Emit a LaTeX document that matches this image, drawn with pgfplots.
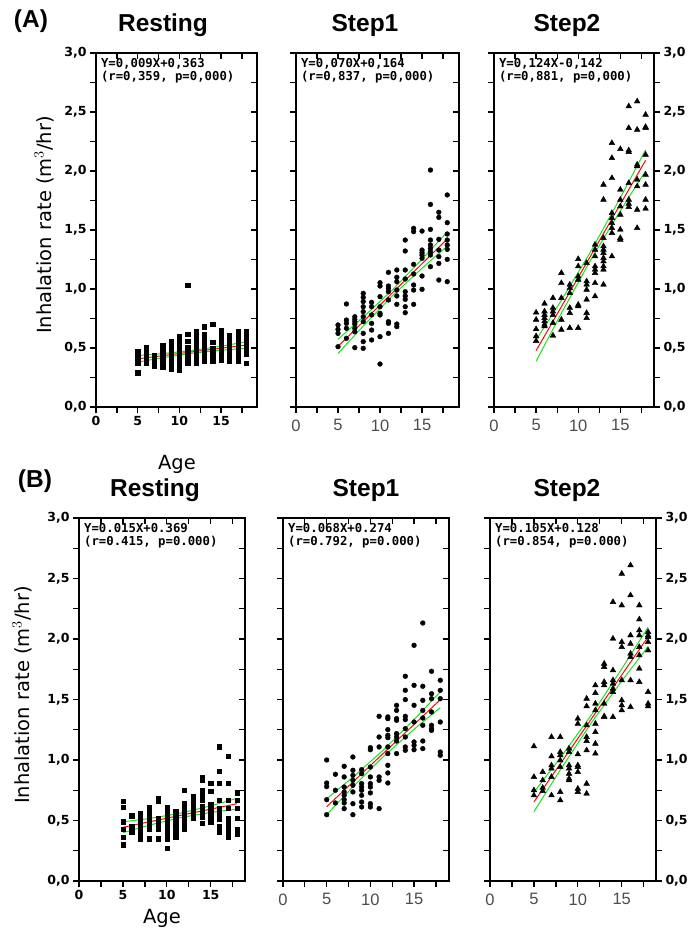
\documentclass[border=0pt]{standalone}
\usepackage{fontspec}
\setmainfont{DejaVu Sans}
\newfontfamily\arialfont{Liberation Sans}
\newfontfamily\monofont{DejaVu Sans Mono}
\usepackage{pgfplots}
\pgfplotsset{compat=1.18}

\definecolor{fitgreen}{RGB}{30,225,30}
\definecolor{fitred}{RGB}{245,10,10}

\tikzset{
  anno/.style={anchor=north west, align=left, inner sep=0pt, font=\monofont\bfseries\fontsize{12.3}{12.8}\selectfont},
  ttl/.style={font=\arialfont\bfseries\fontsize{24.5}{24.5}\selectfont, anchor=base},
}

\pgfplotsset{
  panel/.style={
    scale only axis, xmin=0, ymin=0, ymax=3,
    axis line style={line width=1.8pt},
    tick style={line width=1.3pt, black},
    major tick length=6pt, minor tick length=6pt,
    xtick={0,5,10,15}, minor xtick={2.5,7.5,12.5,17.5},
    ytick={0,0.5,...,3}, minor ytick={0.25,0.75,...,2.75},
    yticklabel style={/pgf/number format/fixed, /pgf/number format/fixed zerofill,
      /pgf/number format/precision=1, /pgf/number format/use comma,
      /pgf/number format/assume math mode=true, font=\bfseries\fontsize{12.5}{12.5}\selectfont},
    clip=false,
  },
  mainax/.style={panel, tick align=outside, xtick pos=left, ytick pos=left},
  boldx/.style={xticklabel style={font=\bfseries\fontsize{12.5}{12.5}\selectfont, /pgf/number format/assume math mode=true}},
  thinx/.style={xticklabel style={font=\arialfont\fontsize{16.5}{16.5}\selectfont, black!70, yshift=-3pt, /pgf/number format/assume math mode=true}},
  noy/.style={yticklabels={}},
  topin/.style={panel, tick align=inside, xtick pos=right, ytick pos=right, xticklabels={}, yticklabels={}},
  topinonly/.style={panel, tick align=inside, xtick pos=right, ytick=\empty, minor ytick=\empty, xticklabels={}},
  rightout/.style={panel, tick align=outside, ytick pos=right, yticklabel pos=right, xtick=\empty, minor xtick=\empty},
  sq/.style={only marks, mark=square*, mark size=2.1pt, black},
  dot/.style={only marks, mark=*, mark size=2.4pt, black},
  tri/.style={only marks, mark=triangle*, mark size=3.3pt, black},
  fitline/.style={fitred, line width=1pt, no marks},
  bandline/.style={fitgreen, line width=1pt, no marks},
}

\begin{document}
\begin{tikzpicture}[x=1pt, y=1pt]
\useasboundingbox (0,0) rectangle (688,935);

% ---------------- (A) ----------------
\node[ttl] at (31,907) {(A)};
\node[ttl] at (163,903) {Resting};
\node[ttl] at (365,903) {Step1};
\node[ttl] at (567,903) {Step2};
\node[rotate=90, font=\fontsize{19.5}{19.5}\selectfont] at (44,710) {Inhalation rate (m$^{3}$/hr)};
\node[font=\fontsize{19.5}{19.5}\selectfont, anchor=base] at (177,465) {Age};

% A Resting
\begin{axis}[mainax, boldx, at={(96pt,528pt)}, anchor=south west, width=161pt, height=354pt, xmax=19.3]
\addplot[sq] coordinates {
(5,0.47)(5,0.43)(5,0.41)(5,0.39)(5,0.37)(5,0.29)
(6,0.51)(6,0.48)(6,0.45)(6,0.42)(6,0.39)(6,0.37)
(7,0.44)(7,0.41)(7,0.38)(7,0.35)
(8,0.52)(8,0.49)(8,0.46)(8,0.43)(8,0.40)(8,0.37)(8,0.34)
(9,0.56)(9,0.52)(9,0.49)(9,0.46)(9,0.43)(9,0.40)(9,0.37)(9,0.34)(9,0.32)
(10,0.60)(10,0.56)(10,0.53)(10,0.50)(10,0.47)(10,0.44)(10,0.41)(10,0.38)(10,0.35)(10,0.31)
(11,1.03)(11,0.62)(11,0.56)(11,0.51)(11,0.48)(11,0.45)(11,0.42)(11,0.39)(11,0.37)
(12,0.64)(12,0.61)(12,0.58)(12,0.55)(12,0.52)(12,0.49)(12,0.46)(12,0.43)(12,0.40)(12,0.37)
(13,0.68)(13,0.62)(13,0.57)(13,0.54)(13,0.51)(13,0.48)(13,0.45)(13,0.42)(13,0.39)
(14,0.70)(14,0.55)(14,0.50)(14,0.47)(14,0.44)(14,0.41)(14,0.39)
(15,0.65)(15,0.61)(15,0.58)(15,0.55)(15,0.52)(15,0.49)(15,0.46)(15,0.43)(15,0.40)
(16,0.61)(16,0.57)(16,0.53)(16,0.50)(16,0.47)(16,0.44)(16,0.41)(16,0.39)
(17,0.64)(17,0.60)(17,0.57)(17,0.54)(17,0.51)(17,0.48)(17,0.45)(17,0.42)(17,0.39)
(18,0.64)(18,0.60)(18,0.57)(18,0.54)(18,0.51)(18,0.48)(18,0.45)(18,0.37)
};
\addplot[bandline] coordinates {(5,0.436)(8,0.452)(11.5,0.479)(15,0.515)(18,0.553)};
\addplot[bandline] coordinates {(5,0.380)(8,0.418)(11.5,0.455)(15,0.481)(18,0.497)};
\addplot[fitline] coordinates {(5,0.408)(8,0.435)(11.5,0.467)(15,0.498)(18,0.525)};
\node[anno] at (rel axis cs:0.03,0.985) {Y=0,009X+0,363\\(r=0,359, p=0,000)};
\end{axis}
\begin{axis}[topin, at={(96pt,528pt)}, anchor=south west, width=161pt, height=354pt, xmax=19.3]
\end{axis}

% A Step1
\begin{axis}[mainax, thinx, noy, at={(296pt,528pt)}, anchor=south west, width=163pt, height=354pt, xmax=19.4]
\addplot[dot] coordinates {
(5,0.695)(5,0.658)(5,0.624)(5,0.511)
(6,0.873)(6,0.737)(6,0.709)(6,0.667)(6,0.582)
(7,0.765)(7,0.743)(7,0.723)(7,0.703)(7,0.667)(7,0.638)(7,0.503)
(8,0.963)(8,0.929)(8,0.893)(8,0.850)(8,0.808)(8,0.765)(8,0.723)(8,0.624)(8,0.554)(8,0.497)
(9,0.887)(9,0.850)(9,0.780)(9,0.709)(9,0.652)(9,0.568)
(10,1.053)(10,1.025)(10,0.935)(10,0.850)(10,0.794)(10,0.780)(10,0.596)(10,0.364)
(11,1.141)(11,1.025)(11,1.005)(11,0.977)(11,0.907)(11,0.723)(11,0.709)(11,0.624)
(12,1.161)(12,1.099)(12,1.062)(12,0.991)(12,0.941)(12,0.870)(12,0.703)(12,0.681)
(13,1.415)(13,1.322)(13,1.161)(13,1.085)(13,0.977)(13,0.941)(13,0.912)(13,0.850)(13,0.799)
(14,1.514)(14,1.486)(14,1.209)(14,1.127)(14,1.034)(14,0.991)(14,0.870)
(15,1.491)(15,1.330)(15,1.308)(15,1.288)(15,1.260)(15,1.110)(15,0.997)
(16,2.008)(16,1.717)(16,1.505)(16,1.415)(16,1.373)(16,1.344)(16,1.316)(16,1.288)(16,1.189)
(17,1.650)(17,1.607)(17,1.421)(17,1.330)(17,1.274)(17,1.217)(17,1.076)
(18,1.797)(18,1.562)(18,1.466)(18,1.415)(18,1.373)(18,1.336)(18,1.251)(18,1.062)
};
\addplot[bandline] coordinates {(5,0.574)(8,0.762)(11.5,0.994)(15,1.252)(18,1.484)};
\addplot[bandline] coordinates {(5,0.454)(8,0.686)(11.5,0.944)(15,1.176)(18,1.364)};
\addplot[fitline] coordinates {(5,0.514)(8,0.724)(11.5,0.969)(15,1.214)(18,1.424)};
\node[anno] at (rel axis cs:0.03,0.985) {Y=0,070X+0,164\\(r=0,837, p=0,000)};
\end{axis}
\begin{axis}[topin, at={(296pt,528pt)}, anchor=south west, width=163pt, height=354pt, xmax=19.4]
\end{axis}

% A Step2
\begin{axis}[mainax, thinx, noy, at={(494pt,528pt)}, anchor=south west, width=160pt, height=354pt, xmax=19.0]
\addplot[tri] coordinates {
(5,0.80)(5,0.74)(5,0.66)(5,0.60)(5,0.56)
(6,0.876)(6,0.81)(6,0.78)(6,0.754)(6,0.726)(6,0.698)(6,0.684)
(7,0.924)(7,0.84)(7,0.81)(7,0.78)(7,0.712)(7,0.605)
(8,1.136)(8,1.05)(8,0.924)(8,0.74)(8,0.655)
(9,1.037)(9,1.008)(9,0.966)(9,0.84)(9,0.797)(9,0.67)
(10,1.254)(10,1.192)(10,1.107)(10,1.079)(10,0.867)(10,0.853)(10,0.67)
(11,1.22)(11,1.065)(11,1.037)(11,0.994)(11,0.91)(11,0.797)(11,0.754)
(12,1.376)(12,1.333)(12,1.277)(12,1.192)(12,1.164)(12,1.136)(12,1.05)(12,0.938)
(13,1.884)(13,1.757)(13,1.432)(13,1.362)(13,1.333)(13,1.305)(13,1.263)(13,1.234)(13,1.192)(13,1.164)(13,1.037)
(14,2.237)(14,2.11)(14,1.94)(14,1.644)(14,1.602)(14,1.559)(14,1.517)(14,1.475)(14,1.277)
(15,2.186)(15,1.842)(15,1.757)(15,1.70)(15,1.63)(15,1.503)(15,1.432)(15,1.418)
(16,2.548)(16,2.364)(16,2.175)(16,2.161)(16,1.898)(16,1.757)(16,1.723)(16,1.695)
(17,2.59)(17,2.35)(17,2.054)(17,2.04)(17,1.927)(17,1.87)(17,1.672)(17,1.517)
(18,2.477)(18,2.373)(18,2.364)(18,2.138)(18,1.969)(18,1.884)(18,1.757)(18,1.681)
};
\addplot[bandline] coordinates {(5,0.568)(8,0.905)(11.5,1.319)(15,1.773)(18,2.18)};
\addplot[bandline] coordinates {(5,0.388)(8,0.795)(11.5,1.249)(15,1.663)(18,2.00)};
\addplot[fitline] coordinates {(5,0.478)(8,0.85)(11.5,1.284)(15,1.718)(18,2.09)};
\node[anno] at (rel axis cs:0.03,0.985) {Y=0,124X-0,142\\(r=0,881, p=0,000)};
\end{axis}
\begin{axis}[topinonly, at={(494pt,528pt)}, anchor=south west, width=160pt, height=354pt, xmax=19.0]
\end{axis}
\begin{axis}[rightout, at={(494pt,528pt)}, anchor=south west, width=160pt, height=354pt, xmax=19.0]
\end{axis}

% ---------------- (B) ----------------
\node[ttl] at (35,447) {(B)};
\node[ttl] at (155,438) {Resting};
\node[ttl] at (366,438) {Step1};
\node[ttl] at (567,438) {Step2};
\node[rotate=90, font=\fontsize{19.5}{19.5}\selectfont] at (22,240) {Inhalation rate (m$^{3}$/hr)};
\node[font=\fontsize{19.5}{19.5}\selectfont, anchor=base] at (162,12) {Age};

% B Resting
\begin{axis}[mainax, boldx, at={(79pt,54pt)}, anchor=south west, width=166pt, height=363pt, xmax=18.9]
\addplot[sq] coordinates {
(5,0.66)(5,0.61)(5,0.49)(5,0.43)(5,0.36)(5,0.30)
(6,0.54)(6,0.45)(6,0.42)(6,0.40)
(7,0.56)(7,0.52)(7,0.49)(7,0.46)(7,0.43)(7,0.40)(7,0.37)(7,0.35)
(8,0.61)(8,0.58)(8,0.55)(8,0.52)(8,0.49)(8,0.46)(8,0.43)(8,0.35)
(9,0.68)(9,0.66)(9,0.52)(9,0.49)(9,0.46)(9,0.43)(9,0.35)
(10,0.61)(10,0.58)(10,0.55)(10,0.52)(10,0.49)(10,0.46)(10,0.43)(10,0.40)(10,0.37)(10,0.35)(10,0.27)
(11,0.58)(11,0.55)(11,0.52)(11,0.49)(11,0.46)(11,0.43)(11,0.40)(11,0.36)
(12,0.75)(12,0.64)(12,0.61)(12,0.58)(12,0.55)(12,0.52)(12,0.49)(12,0.46)(12,0.43)
(13,0.70)(13,0.67)(13,0.64)(13,0.61)(13,0.58)(13,0.55)(13,0.52)
(14,0.86)(14,0.83)(14,0.75)(14,0.71)(14,0.67)(14,0.62)(14,0.59)(14,0.56)(14,0.53)(14,0.48)
(15,0.81)(15,0.74)(15,0.63)(15,0.60)(15,0.57)(15,0.54)(15,0.51)(15,0.49)
(16,1.11)(16,0.91)(16,0.81)(16,0.67)(16,0.60)(16,0.57)(16,0.54)(16,0.51)(16,0.45)(16,0.42)(16,0.40)
(17,1.03)(17,0.81)(17,0.67)(17,0.60)(17,0.52)(17,0.49)(17,0.46)(17,0.43)(17,0.40)(17,0.38)(17,0.36)
(18,0.73)(18,0.67)(18,0.60)(18,0.52)(18,0.43)(18,0.39)
};
\addplot[bandline] coordinates {(5,0.489)(8,0.516)(11.5,0.5595)(15,0.621)(18,0.684)};
\addplot[bandline] coordinates {(5,0.399)(8,0.462)(11.5,0.5235)(15,0.567)(18,0.594)};
\addplot[fitline] coordinates {(5,0.444)(8,0.489)(11.5,0.5415)(15,0.594)(18,0.639)};
\node[anno] at (rel axis cs:0.03,0.985) {Y=0.015X+0.369\\(r=0.415, p=0.000)};
\end{axis}
\begin{axis}[topin, at={(79pt,54pt)}, anchor=south west, width=166pt, height=363pt, xmax=18.9]
\end{axis}

% B Step1
\begin{axis}[mainax, thinx, noy, at={(283pt,54pt)}, anchor=south west, width=166pt, height=363pt, xmax=19.0]
\addplot[dot] coordinates {
(5,1.00)(5,0.81)(5,0.78)(5,0.672)(5,0.548)
(6,0.882)(6,0.75)(6,0.645)
(7,0.948)(7,0.86)(7,0.777)(7,0.736)(7,0.708)(7,0.672)(7,0.645)(7,0.598)
(8,1.025)(8,0.915)(8,0.873)(8,0.832)(8,0.791)(8,0.736)(8,0.639)(8,0.548)
(9,0.92)(9,0.887)(9,0.805)(9,0.777)(9,0.75)(9,0.708)(9,0.653)(9,0.612)
(10,1.102)(10,1.085)(10,0.942)(10,0.86)(10,0.805)(10,0.777)(10,0.728)(10,0.639)(10,0.612)
(11,1.361)(11,1.19)(11,1.108)(11,0.86)(11,0.832)(11,0.598)
(12,1.356)(12,1.342)(12,1.251)(12,1.204)(12,1.185)(12,1.108)(12,1.053)(12,0.956)(12,0.893)(12,0.81)
(13,1.452)(13,1.41)(13,1.342)(13,1.328)(13,1.218)(13,1.19)(13,1.157)(13,1.053)
(14,1.692)(14,1.576)(14,1.499)(14,1.361)(14,1.334)(14,1.259)(14,1.19)(14,1.108)(14,1.08)
(15,1.948)(15,1.617)(15,1.452)(15,1.314)(15,1.149)(15,1.121)(15,1.085)
(16,2.132)(16,1.609)(16,1.493)(16,1.41)(16,1.347)(16,1.287)(16,1.157)(16,1.094)
(17,1.733)(17,1.548)(17,1.507)(17,1.397)(17,1.287)(17,1.259)(17,1.245)
(18,1.659)(18,1.576)(18,1.507)(18,1.314)(18,1.066)(18,1.039)
};
\addplot[bandline] coordinates {(5,0.679)(8,0.858)(11.5,1.083)(15,1.334)(18,1.563)};
\addplot[bandline] coordinates {(5,0.549)(8,0.778)(11.5,1.029)(15,1.254)(18,1.433)};
\addplot[fitline] coordinates {(5,0.614)(8,0.818)(11.5,1.056)(15,1.294)(18,1.498)};
\node[anno] at (rel axis cs:0.03,0.985) {Y=0.068X+0.274\\(r=0.792, p=0.000)};
\end{axis}
\begin{axis}[topin, at={(283pt,54pt)}, anchor=south west, width=166pt, height=363pt, xmax=19.0]
\end{axis}

% B Step2
\begin{axis}[mainax, thinx, noy, at={(490pt,54pt)}, anchor=south west, width=166pt, height=363pt, xmax=18.9]
\addplot[tri] coordinates {
(5,1.113)(5,0.86)(5,0.75)(5,0.708)
(6,0.901)(6,0.832)(6,0.77)(6,0.744)
(7,1.19)(7,1.03)(7,0.956)(7,0.929)(7,0.86)(7,0.708)
(8,1.19)(8,1.066)(8,1.039)(8,0.997)(8,0.942)(8,0.736)(8,0.667)
(9,1.094)(9,1.066)(9,0.956)(9,0.929)(9,0.887)(9,0.846)(9,0.832)
(10,1.342)(10,1.30)(10,1.047)(10,0.956)(10,0.942)(10,0.901)(10,0.763)(10,0.736)
(11,1.507)(11,1.444)(11,1.287)(11,1.19)(11,1.157)(11,1.08)(11,0.804)(11,0.722)
(12,1.617)(12,1.554)(12,1.466)(12,1.411)(12,1.30)(12,1.231)(12,1.135)(12,1.053)
(13,1.796)(13,1.769)(13,1.645)(13,1.617)(13,1.466)(13,1.361)(13,1.355)
(14,2.306)(14,2.003)(14,1.741)(14,1.659)(14,1.631)(14,1.59)(14,1.562)(14,1.355)
(15,2.54)(15,2.278)(15,1.975)(15,1.934)(15,1.659)(15,1.493)(15,1.452)(15,1.411)
(16,2.609)(16,2.361)(16,2.03)(16,1.961)(16,1.879)(16,1.851)(16,1.659)(16,1.438)
(17,2.278)(17,2.162)(17,2.072)(17,2.03)(17,1.934)(17,1.865)(17,1.755)(17,1.645)
(18,2.058)(18,2.03)(18,2.017)(18,1.975)(18,1.906)(18,1.562)(18,1.466)(18,1.444)
};
\addplot[bandline] coordinates {(5,0.733)(8,1.018)(11.5,1.3675)(15,1.753)(18,2.098)};
\addplot[bandline] coordinates {(5,0.573)(8,0.918)(11.5,1.3035)(15,1.653)(18,1.938)};
\addplot[fitline] coordinates {(5,0.653)(8,0.968)(11.5,1.3355)(15,1.703)(18,2.018)};
\node[anno] at (rel axis cs:0.03,0.985) {Y=0.105X+0.128\\(r=0.854, p=0.000)};
\end{axis}
\begin{axis}[topinonly, at={(490pt,54pt)}, anchor=south west, width=166pt, height=363pt, xmax=18.9]
\end{axis}
\begin{axis}[rightout, at={(490pt,54pt)}, anchor=south west, width=166pt, height=363pt, xmax=18.9]
\end{axis}

\end{tikzpicture}
\end{document}
